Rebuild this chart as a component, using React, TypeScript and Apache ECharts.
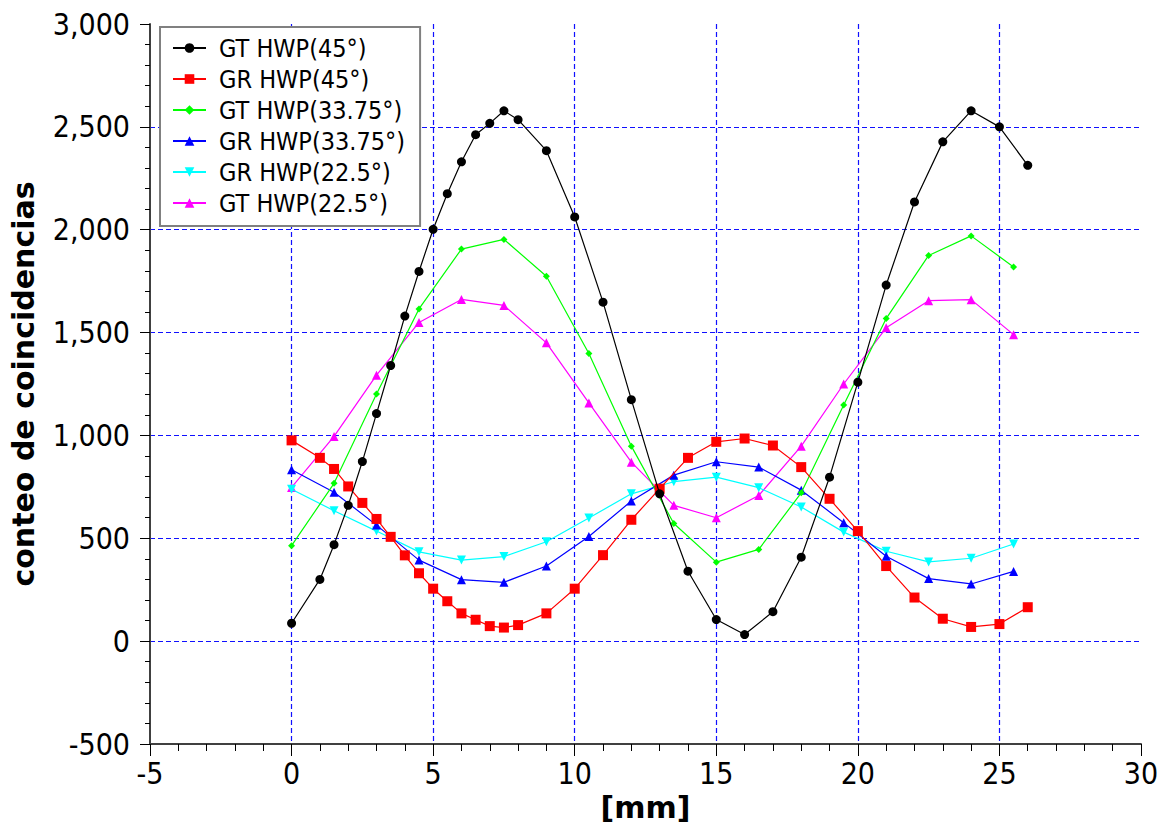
import React, { useEffect, useRef } from "react";
import * as echarts from "echarts";

// x positions (mm)
const xFine = [0, 1, 1.5, 2, 2.5, 3, 3.5, 4, 4.5, 5, 5.5, 6, 6.5, 7, 7.5, 8, 9, 10, 11, 12, 13, 14, 15, 16, 17, 18, 19, 20, 21, 22, 23, 24, 25, 26];
const xCoarse = [0, 1.5, 3, 4.5, 6, 7.5, 9, 10.5, 12, 13.5, 15, 16.5, 18, 19.5, 21, 22.5, 24, 25.5];

const gt45 = [87, 300, 469, 660, 873, 1106, 1340, 1580, 1797, 2002, 2175, 2330, 2462, 2517, 2578, 2535, 2384, 2062, 1648, 1174, 716, 340, 105, 32, 143, 408, 797, 1259, 1731, 2135, 2427, 2578, 2500, 2313];
const gr45 = [976, 891, 837, 752, 672, 594, 507, 417, 330, 255, 194, 135, 104, 73, 66, 78, 135, 255, 418, 590, 741, 891, 969, 985, 951, 846, 692, 535, 365, 212, 109, 69, 83, 165];
const gt3375 = [464, 767, 1201, 1615, 1906, 1953, 1774, 1398, 948, 572, 384, 446, 721, 1148, 1568, 1875, 1970, 1819];
const gr3375 = [833, 724, 564, 394, 299, 286, 365, 509, 681, 807, 872, 846, 734, 576, 413, 304, 278, 339];
const gr225 = [738, 634, 535, 434, 394, 411, 483, 599, 716, 775, 797, 746, 652, 530, 437, 385, 403, 472];
const gt225 = [747, 995, 1293, 1549, 1661, 1632, 1450, 1158, 870, 660, 600, 708, 948, 1250, 1523, 1655, 1660, 1490];

const seriesNames = ["GT HWP(45°)", "GR HWP(45°)", "GT HWP(33.75°)", "GR HWP(33.75°)", "GR HWP(22.5°)", "GT HWP(22.5°)"];
const seriesColors = ["#000000", "#ff0000", "#00ff00", "#0000ff", "#00ffff", "#ff00ff"];
const seriesSymbols = ["circle", "rect", "diamond", "triangle", "path://M0,0 L10,0 L5,10 Z", "triangle"];
const seriesSizes = [9, 10, 7, 9, 9, 9];

const xTickMin = -5;
const xTickMax = 30;
const xTickStep = 5;
const yTickMin = -500;
const yTickMax = 3000;
const yTickStep = 500;

const REG = "'DejaVu Sans Condensed', 'DejaVu Sans', sans-serif";
const BOLD = "'DejaVu Sans', sans-serif";

function zip(xs: number[], ys: number[]) {
  return xs.map((x, i) => [x, ys[i]]);
}

export default function App() {
  const ref = useRef<HTMLDivElement>(null);
  useEffect(() => {
    if (!ref.current) return;
    const chart = echarts.init(ref.current, undefined, { renderer: "svg" });
    const datasets = [
      zip(xFine, gt45),
      zip(xFine, gr45),
      zip(xCoarse, gt3375),
      zip(xCoarse, gr3375),
      zip(xCoarse, gr225),
      zip(xCoarse, gt225),
    ];
    const gridLine = {
      show: true,
      showMinLine: false,
      showMaxLine: false,
      lineStyle: { color: "#1010ff", type: [5, 3], width: 1.2 },
    };
    chart.setOption({
      animation: false,
      backgroundColor: "#ffffff",
      grid: { left: 149, right: 23, top: 24, bottom: 87, containLabel: false },
      legend: {
        orient: "vertical",
        left: 160,
        top: 27,
        padding: [8, 15, 10, 12],
        itemGap: 5,
        itemWidth: 33,
        itemHeight: 12,
        backgroundColor: "#ffffff",
        borderColor: "#808080",
        borderWidth: 2,
        data: seriesNames,
        textStyle: {
          fontFamily: REG,
          fontSize: 25,
          lineHeight: 26,
          color: "#000000",
          padding: [0, 0, 0, 8],
        },
      },
      xAxis: {
        type: "value",
        min: xTickMin,
        max: xTickMax,
        interval: xTickStep,
        name: "[mm]",
        nameLocation: "middle",
        nameGap: 48,
        nameTextStyle: { fontFamily: BOLD, fontWeight: "bold", fontSize: 30, color: "#000" },
        axisLine: { show: true, onZero: false, lineStyle: { color: "#404040", width: 2 } },
        axisTick: { show: true, length: 12, lineStyle: { color: "#000", width: 1 } },
        minorTick: { show: true, splitNumber: 5, length: 7, lineStyle: { color: "#000", width: 1 } },
        axisLabel: { fontFamily: REG, fontSize: 30, color: "#000", margin: 14 },
        splitLine: gridLine,
      },
      yAxis: {
        type: "value",
        min: yTickMin,
        max: yTickMax,
        interval: yTickStep,
        name: "conteo de coincidencias",
        nameLocation: "middle",
        nameGap: 112,
        nameRotate: 90,
        nameTextStyle: { fontFamily: BOLD, fontWeight: "bold", fontSize: 30, color: "#000" },
        axisLine: { show: true, onZero: false, lineStyle: { color: "#404040", width: 2 } },
        axisTick: { show: true, length: 10, lineStyle: { color: "#000", width: 1 } },
        minorTick: { show: true, splitNumber: 5, length: 5, lineStyle: { color: "#000", width: 1 } },
        axisLabel: {
          fontFamily: REG,
          fontSize: 30,
          color: "#000",
          margin: 20,
          formatter: (v: number) => v.toLocaleString("en-US"),
        },
        splitLine: gridLine,
      },
      series: seriesNames.map((name, i) => ({
        name,
        type: "line",
        data: datasets[i],
        symbol: seriesSymbols[i],
        symbolSize: seriesSizes[i],
        showAllSymbol: true,
        color: seriesColors[i],
        itemStyle: { color: seriesColors[i] },
        lineStyle: { color: seriesColors[i], width: 1.2 },
        z: 10 - i,
      })),
    });
    return () => chart.dispose();
  }, []);
  return (
    <div
      ref={ref}
      style={{ position: "absolute", left: 0, top: 0, width: 1164, height: 831 }}
    />
  );
}
